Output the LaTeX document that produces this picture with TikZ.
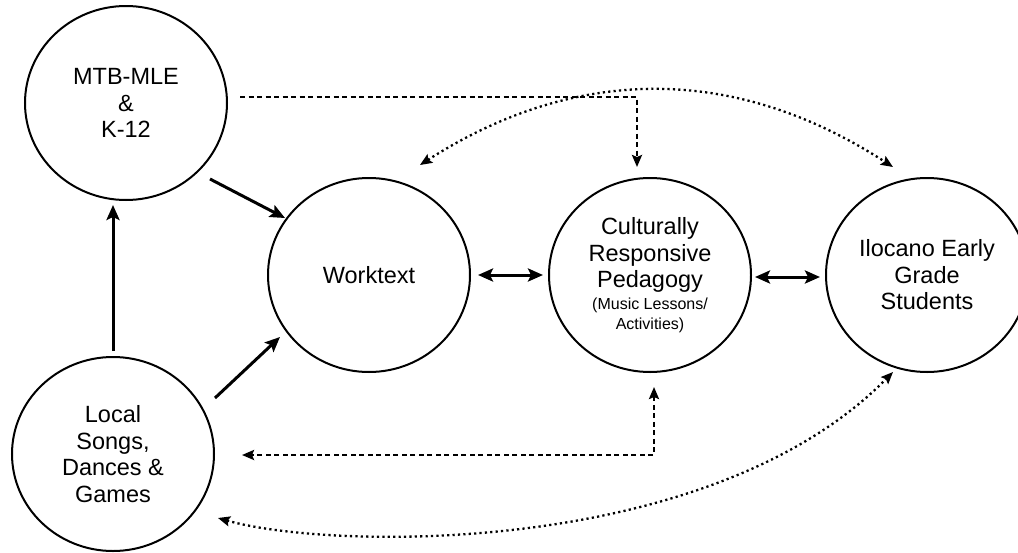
\documentclass[tikz,border=0pt]{standalone}
\usepackage{fontspec}
\setmainfont{Liberation Sans}
\usetikzlibrary{arrows.meta,calc,shapes.geometric}
\begin{document}
\begin{tikzpicture}[x=1pt,y=-1pt,
  bubble/.style={draw,ellipse,line width=2pt,minimum width=202pt,minimum height=194pt,inner sep=0pt,align=center,font=\fontsize{23.5}{26.5}\selectfont},
  solidarr/.style={line width=3pt,-{Stealth[length=15pt,width=13pt,inset=3pt]}},
  solidboth/.style={line width=3pt,{Stealth[length=15pt,width=13pt,inset=3pt]}-{Stealth[length=15pt,width=13pt,inset=3pt]}},
  dasharr/.style={line width=2.4pt,dash pattern=on 5pt off 3.5pt,{Stealth[length=12pt,width=10pt,inset=2pt]}-{Stealth[length=12pt,width=10pt,inset=2pt]}},
  dashone/.style={line width=2.4pt,dash pattern=on 5pt off 3.5pt,-{Stealth[length=12pt,width=10pt,inset=2pt]}},
  dotarr/.style={line width=2.3pt,dash pattern=on 2.2pt off 3.2pt,{Stealth[length=12pt,width=10pt,inset=2pt]}-{Stealth[length=12pt,width=10pt,inset=2pt]}}
]
\useasboundingbox (0,0) rectangle (1018,552);
\node[bubble] (mtb) at (126,103) {MTB-MLE\\\&\\K-12};
\node[bubble] (loc) at (113,454) {Local\\Songs,\\Dances \&\\Games};
\node[bubble] (wt) at (369,275) {Worktext};
\node[bubble] (crp) at (650,275) {Culturally\\Responsive\\Pedagogy\\[-4.5pt]{\fontsize{16}{20}\selectfont (Music Lessons/}\\[-7pt]{\fontsize{16}{20}\selectfont Activities)}};
\node[bubble] (il) at (927,275) {Ilocano Early\\Grade\\Students};

% solid arrows
\draw[solidarr] ($(mtb)+(84,76)$) -- ($(wt)+(-84,-57)$);
\draw[solidarr] ($(loc.north)+(0,-5)$) -- ($(loc.north)+(0,-151)$);
\draw[solidarr] ($(loc)+(102,-56)$) -- ($(wt)+(-89,62)$);
\draw[solidboth] ($(wt)+(109,0)$) -- ($(crp)+(-107,0)$);
\draw[solidboth] ($(crp)+(105,2)$) -- ($(il)+(-107,2)$);

% dashed
\draw[dashone] ($(mtb)+(114,-6)$) -| ($(crp)+(-13,-108)$);
\draw[dasharr] ($(crp)+(4,112)$) |- ($(loc)+(129,1)$);

% dotted curves
\draw[dotarr] ($(wt)+(51,-110)$) .. controls (560,75) and (720,55) .. ($(il)+(-34,-108)$);
\draw[dotarr] ($(loc)+(105,64)$) .. controls (330,550) and (710,558) .. ($(il)+(-34,97)$);
\end{tikzpicture}
\end{document}
